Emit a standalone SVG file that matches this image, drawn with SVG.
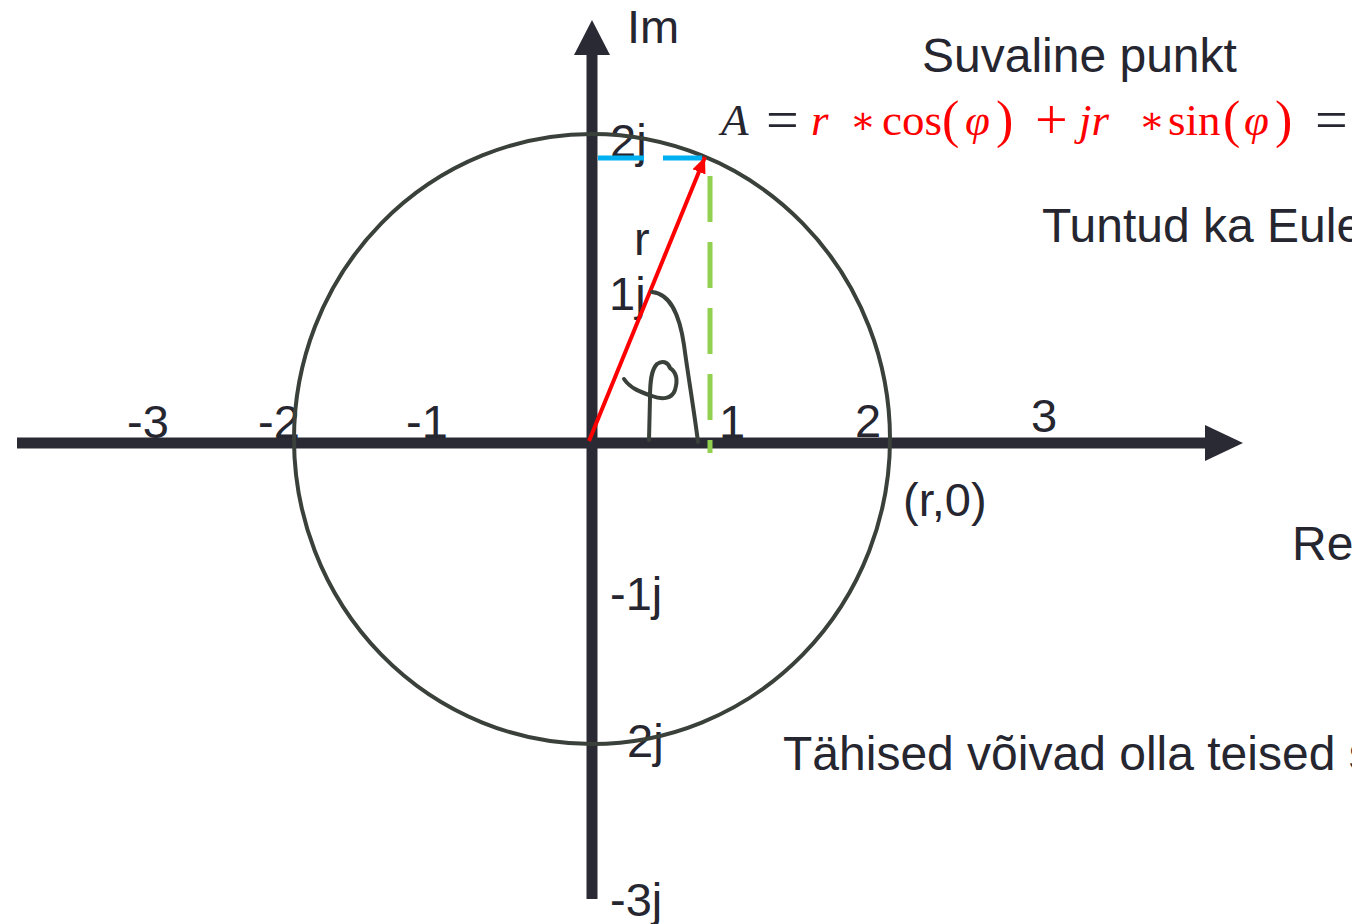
<svg xmlns="http://www.w3.org/2000/svg" width="1352" height="924" viewBox="0 0 1352 924">
<style>
.lbl{font-family:"Liberation Sans",Arial,sans-serif;font-size:47px;fill:#262630}
.big{font-size:48px}
.m{font-family:"Liberation Serif","DejaVu Serif",serif;font-size:45px}
.it{font-style:italic}
.red{fill:#ff0000}
.dk{fill:#262630}
.par{font-size:52px}
.op{font-size:58px}
.ast{font-size:38px}
.axis{stroke:#2a2a35;stroke-width:11;fill:none}
.ahead{fill:#2a2a35}
.circ{fill:none;stroke:#3a403a;stroke-width:4}
.hand{fill:none;stroke:#3a403a;stroke-width:4;stroke-linecap:round;stroke-linejoin:round}
</style>
<defs>
<marker id="redArrow" markerUnits="userSpaceOnUse" markerWidth="20" markerHeight="20" refX="16" refY="7" orient="auto">
<path d="M0,0 L16,7 L0,14 z" fill="#ff0000"/>
</marker>
</defs>
<rect width="1352" height="924" fill="#ffffff"/>
<g id="axes">
<line class="axis" x1="17" y1="443" x2="1210" y2="443"/>
<polygon class="ahead" points="1205,425 1243,443 1205,461"/>
<line class="axis" x1="592" y1="899" x2="592" y2="50"/>
<polygon class="ahead" points="574,55 592,20 610,55"/>
</g>
<g id="labels">
<text class="lbl" x="627" y="43">Im</text>
<text class="lbl big" x="1292" y="560">Re</text>
<text class="lbl" x="127" y="438">-3</text>
<text class="lbl" x="258" y="438">-2</text>
<text class="lbl" x="406" y="438">-1</text>
<text class="lbl" x="719" y="438">1</text>
<text class="lbl" x="855" y="437">2</text>
<text class="lbl" x="1031" y="432">3</text>
<text class="lbl" x="903" y="516">(r,0)</text>
<text class="lbl" x="610" y="157">2j</text>
<text class="lbl" x="634" y="255">r</text>
<text class="lbl" x="609" y="310">1j</text>
<text class="lbl" x="610" y="610">-1j</text>
<text class="lbl" x="627" y="757">2j</text>
<text class="lbl" x="610" y="916">-3j</text>
</g>
<g id="text-right">
<text class="lbl big" x="922" y="72">Suvaline punkt</text>
<text class="lbl big" x="1042" y="242">Tuntud ka Eule</text>
<text class="lbl big" x="783" y="770">Tähised võivad olla teised s</text>
</g>
<g id="formula" class="m">
<text x="721" y="135" class="dk it">A</text>
<text x="766" y="139" class="dk op">=</text>
<text x="811" y="135" class="red it">r</text>
<text x="850" y="133" class="red ast">∗</text>
<text x="882" y="135" class="red">cos</text>
<text x="942" y="137" class="red par">(</text>
<text x="965" y="135" class="red it">φ</text>
<text x="996" y="137" class="red par">)</text>
<text x="1035" y="139" class="red op">+</text>
<text x="1079" y="135" class="red it">jr</text>
<text x="1139" y="133" class="red ast">∗</text>
<text x="1168" y="135" class="red">sin</text>
<text x="1223" y="137" class="red par">(</text>
<text x="1244" y="135" class="red it">φ</text>
<text x="1275" y="137" class="red par">)</text>
<text x="1315" y="139" class="dk op">=</text>
</g>
<g id="circle">
<ellipse class="circ" cx="592" cy="439" rx="298" ry="305"/>
</g>
<g id="connectors">
<line x1="598" y1="158" x2="702" y2="158" stroke="#00b0f0" stroke-width="5" stroke-dasharray="46 19"/>
<line x1="710" y1="176" x2="710" y2="453" stroke="#92d050" stroke-width="5" stroke-dasharray="46 20"/>
<line x1="589" y1="441" x2="705" y2="157" stroke="#ff0000" stroke-width="4" marker-end="url(#redArrow)"/>
</g>
<g id="phi-drawing">
<path class="hand" d="M652,292 C672,294 680,318 684,345 C688,375 694,410 698,442"/>
<path class="hand" d="M624,379 C630,388 640,392 652,396 C662,400 672,399 675,390 C678,380 676,372 670,368 C668,362 662,360 657,364 C651,370 650,382 650,398 L649,440"/>
</g>
</svg>
